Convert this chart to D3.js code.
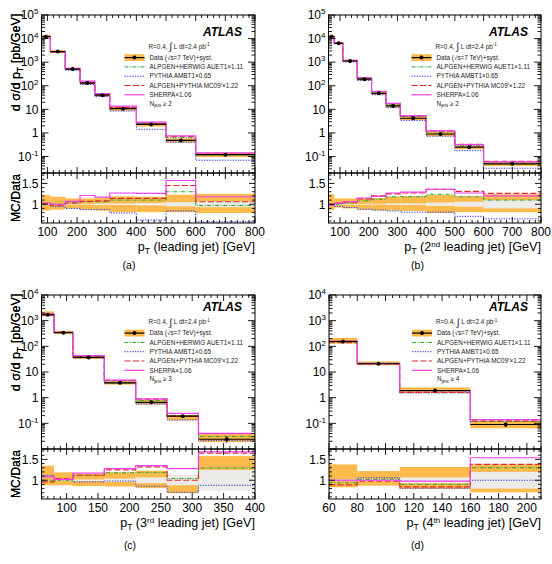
<!DOCTYPE html>
<html><head><meta charset="utf-8">
<script src="https://cdn.jsdelivr.net/npm/d3@7"></script>
<style>
body{margin:0;background:#fff}
svg{display:block}
text{font-family:"Liberation Sans",Arial,Helvetica,sans-serif}
</style>
</head><body>
<svg id="c" width="552" height="564"></svg>
<script>
// ---------------- data ----------------
// (a) leading jet, Njets>=2
const binsA   = [80,110,160,210,260,310,400,500,600,800];
const dataA   = [12000,2800,510,130,40,10.7,2.3,0.48,0.12];
const statA   = [0.01,0.01,0.01,0.01,0.02,0.02,0.03,0.05,0.07];
const sysHiA  = [1.22,1.18,1.14,1.14,1.15,1.19,1.18,1.23,1.25];
const sysLoA  = [0.85,0.87,0.90,0.87,0.85,0.81,0.81,0.81,0.79];
const herwigA = [1.00,1.00,1.03,1.06,1.06,1.10,1.10,1.30,0.97];
const pythiaA = [1.00,0.95,0.90,0.87,0.87,0.79,0.62,0.84,0.58];
const alpPyA  = [1.02,0.98,1.03,1.07,1.08,1.14,1.14,1.45,1.06];
const sherpaA = [1.03,1.00,1.07,1.21,1.17,1.27,1.26,1.57,1.18];
const xTicksA = [100,200,300,400,500,600,700,800];
const yDecA   = [-1,0,1,2,3,4,5];

// (b) 2nd leading jet, Njets>=2
const binsB   = [60,80,110,160,210,260,310,400,500,600,800];
const dataB   = [12000,6300,1120,190,48,14,4.2,0.9,0.25,0.049];
const statB   = [0.01,0.01,0.01,0.01,0.01,0.02,0.02,0.04,0.06,0.10];
const sysHiB  = [1.24,1.14,1.14,1.14,1.15,1.18,1.19,1.22,1.19,1.24];
const sysLoB  = [0.86,0.92,0.90,0.87,0.85,0.85,0.84,0.79,0.81,0.81];
const herwigB = [0.98,1.00,1.03,1.08,1.12,1.18,1.18,1.24,1.18,1.10];
const pythiaB = [1.00,0.95,0.92,0.88,0.86,0.84,0.81,0.81,0.71,0.65];
const alpPyB  = [1.00,1.03,1.05,1.13,1.20,1.25,1.27,1.36,1.31,1.26];
const sherpaB = [0.97,1.02,1.06,1.15,1.19,1.27,1.29,1.36,1.27,1.20];
const xTicksB = [100,200,300,400,500,600,700,800];
const yDecB   = [-1,0,1,2,3,4,5];

// (c) 3rd leading jet, Njets>=3
const binsC   = [60,80,110,160,210,260,310,400];
const dataC   = [1700,340,37,3.8,0.66,0.19,0.024];
const statC   = [0.01,0.01,0.02,0.04,0.07,0.12,0.25];
const sysHiC  = [1.35,1.19,1.15,1.19,1.23,1.12,1.58];
const sysLoC  = [0.88,0.88,0.86,0.85,0.81,0.69,0.77];
const herwigC = [1.00,1.00,1.12,1.18,1.19,1.04,1.29];
const pythiaC = [1.12,1.02,0.96,0.98,0.86,0.71,0.88];
const alpPyC  = [0.96,1.04,1.12,1.25,1.32,1.00,1.65];
const sherpaC = [1.08,1.02,1.17,1.28,1.35,1.28,1.68];
const xTicksC = [100,150,200,250,300,350,400];
const yDecC   = [-1,0,1,2,3,4];

// (d) 4th leading jet, Njets>=4
const binsD   = [60,80,110,160,210];
const dataD   = [155,21,1.9,0.09];
const statD   = [0.02,0.03,0.07,0.20];
const sysHiD  = [1.38,1.22,1.32,1.38];
const sysLoD  = [0.83,0.87,0.79,0.71];
const herwigD = [0.94,1.02,0.90,1.30];
const pythiaD = [1.00,1.06,0.81,1.00];
const alpPyD  = [0.89,0.98,0.84,1.38];
const sherpaD = [1.00,1.00,0.98,1.54];
const xTicksD = [60,80,100,120,140,160,180,200];
const yDecD   = [-1,0,1,2,3,4];

const legendLabels = ["ALPGEN+HERWIG AUET1\u00d71.11","PYTHIA AMBT1\u00d70.65","ALPGEN+PYTHIA MC09\u2032\u00d71.22","SHERPA\u00d71.06"];

// ---------------- styling ----------------
const ORANGE = "#FDBA4C", GREY = "#EDEBE7";
const STY = {
  herwig: {color:"#22A532", dash:"4,1.5,1,1.5", width:1},
  pythia: {color:"#2E3CF0", dash:"1.3,1.3", width:1},
  alpPy:  {color:"#E8262A", dash:"6,2.5", width:1.2},
  sherpa: {color:"#F040F0", dash:null, width:1.2}
};
const ORDER = ["pythia","herwig","alpPy","sherpa"];
const LEG_ORDER = ["herwig","pythia","alpPy","sherpa"];
const TITLE_FS = 12.6;

const svg = d3.select("#c");
const defs = svg.append("defs");

function tickVals(d0, d1, step) {
  const out = [];
  for (let v = Math.ceil(d0/step - 1e-9)*step; v <= d1 + 1e-9; v += step) out.push(+v.toFixed(6));
  return out;
}
function isMult(v, m) { return Math.abs(v/m - Math.round(v/m)) < 1e-6; }

function drawPanel(p) {
  const g = svg.append("g");
  const x  = d3.scaleLinear().domain(p.xDomain).range([p.left, p.right]);
  const y  = d3.scaleLog().domain(p.yDomain).range([p.mainBottom, p.top]);
  const yr = d3.scaleLinear().domain([0.55, 1.75]).range([p.ratioBottom, p.mainBottom]);
  const n = p.data.length, idx = d3.range(n);

  const cm = "cm" + p.id, cr = "cr" + p.id;
  defs.append("clipPath").attr("id", cm).append("rect")
    .attr("x", p.left).attr("y", p.top).attr("width", p.right - p.left).attr("height", p.mainBottom - p.top);
  defs.append("clipPath").attr("id", cr).append("rect")
    .attr("x", p.left).attr("y", p.mainBottom).attr("width", p.right - p.left).attr("height", p.ratioBottom - p.mainBottom);

  const stepLine = d3.line().curve(d3.curveStepAfter);

  // ---- main panel ----
  const gm = g.append("g").attr("clip-path", `url(#${cm})`);
  gm.selectAll("rect.band").data(idx).join("rect").attr("class","band")
    .attr("x", i => x(p.bins[i])).attr("width", i => x(p.bins[i+1]) - x(p.bins[i]))
    .attr("y", i => y(p.data[i]*p.sysHi[i]))
    .attr("height", i => y(p.data[i]*p.sysLo[i]) - y(p.data[i]*p.sysHi[i]))
    .attr("fill", ORANGE);
  ORDER.forEach(k => {
    const r = p.mc[k], s = STY[k];
    const pts = idx.map(i => [x(p.bins[i]), y(p.data[i]*r[i])]);
    pts.push([x(p.bins[n]), y(p.data[n-1]*r[n-1])]);
    gm.append("path").attr("d", stepLine(pts)).attr("fill","none")
      .attr("stroke", s.color).attr("stroke-width", s.width).attr("stroke-dasharray", s.dash);
  });
  gm.selectAll("line.h").data(idx).join("line").attr("class","h")
    .attr("x1", i => x(p.bins[i])).attr("x2", i => x(p.bins[i+1]))
    .attr("y1", i => y(p.data[i])).attr("y2", i => y(p.data[i]))
    .attr("stroke","#000").attr("stroke-width",1.2);
  gm.selectAll("line.v").data(idx).join("line").attr("class","v")
    .attr("x1", i => x((p.bins[i]+p.bins[i+1])/2)).attr("x2", i => x((p.bins[i]+p.bins[i+1])/2))
    .attr("y1", i => y(p.data[i]*(1+p.stat[i]))).attr("y2", i => y(p.data[i]*(1-p.stat[i])))
    .attr("stroke","#000").attr("stroke-width",1.2);
  gm.selectAll("circle").data(idx).join("circle")
    .attr("cx", i => x((p.bins[i]+p.bins[i+1])/2)).attr("cy", i => y(p.data[i]))
    .attr("r", 2).attr("fill","#000");

  // ---- ratio panel ----
  const gr = g.append("g").attr("clip-path", `url(#${cr})`);
  gr.selectAll("rect.sys").data(idx).join("rect").attr("class","sys")
    .attr("x", i => x(p.bins[i])).attr("width", i => x(p.bins[i+1]) - x(p.bins[i]))
    .attr("y", i => yr(p.sysHi[i])).attr("height", i => yr(p.sysLo[i]) - yr(p.sysHi[i]))
    .attr("fill", ORANGE);
  gr.selectAll("rect.stat").data(idx).join("rect").attr("class","stat")
    .attr("x", i => x(p.bins[i])).attr("width", i => x(p.bins[i+1]) - x(p.bins[i]))
    .attr("y", i => yr(1 + p.stat[i])).attr("height", i => yr(1 - p.stat[i]) - yr(1 + p.stat[i]))
    .attr("fill", GREY);
  ORDER.forEach(k => {
    const r = p.mc[k], s = STY[k];
    const pts = idx.map(i => [x(p.bins[i]), yr(r[i])]);
    pts.push([x(p.bins[n]), yr(r[n-1])]);
    gr.append("path").attr("d", stepLine(pts)).attr("fill","none")
      .attr("stroke", s.color).attr("stroke-width", s.width).attr("stroke-dasharray", s.dash);
  });

  // ---- ticks ----
  const tk = g.append("g").attr("stroke","#000").attr("stroke-width",0.9);
  const xv = tickVals(p.xDomain[0], p.xDomain[1], p.xMinor);
  [[p.mainBottom,-1],[p.top,1],[p.mainBottom,1],[p.ratioBottom,-1]].forEach(([yy,dir]) => {
    xv.forEach(v => {
      const L = isMult(v, p.xMajor) ? 6 : 3;
      tk.append("line").attr("x1", x(v)).attr("x2", x(v)).attr("y1", yy).attr("y2", yy + dir*L);
    });
  });
  const e0 = Math.floor(Math.log10(p.yDomain[0])), e1 = Math.ceil(Math.log10(p.yDomain[1]));
  for (let e = e0; e <= e1; e++) for (let k = 1; k <= 9; k++) {
    const v = k*Math.pow(10, e);
    if (v < p.yDomain[0]*0.999 || v > p.yDomain[1]*1.001) continue;
    const L = k === 1 ? 7 : 3.5;
    tk.append("line").attr("x1", p.left).attr("x2", p.left + L).attr("y1", y(v)).attr("y2", y(v));
    tk.append("line").attr("x1", p.right).attr("x2", p.right - L).attr("y1", y(v)).attr("y2", y(v));
  }
  tickVals(0.6, 1.7, 0.1).forEach(v => {
    const L = isMult(v, 0.5) ? 6 : 3;
    tk.append("line").attr("x1", p.left).attr("x2", p.left + L).attr("y1", yr(v)).attr("y2", yr(v));
    tk.append("line").attr("x1", p.right).attr("x2", p.right - L).attr("y1", yr(v)).attr("y2", yr(v));
  });

  // frames
  g.append("rect").attr("x", p.left).attr("y", p.top).attr("width", p.right - p.left)
    .attr("height", p.mainBottom - p.top).attr("fill","none").attr("stroke","#000").attr("stroke-width",1);
  g.append("rect").attr("x", p.left).attr("y", p.mainBottom).attr("width", p.right - p.left)
    .attr("height", p.ratioBottom - p.mainBottom).attr("fill","none").attr("stroke","#000").attr("stroke-width",1);

  // ---- tick labels ----
  p.xTicks.forEach(v => {
    g.append("text").attr("x", x(v)).attr("y", p.ratioBottom + 12.5).attr("text-anchor","middle")
      .attr("font-size", 12).text(v);
  });
  p.yDec.forEach(e => {
    const t = g.append("text").attr("x", p.left - 3).attr("y", y(Math.pow(10, e)) + 4.3)
      .attr("text-anchor","end").attr("font-size", 12);
    if (e === 0) t.text("1");
    else if (e === 1) t.text("10");
    else { t.append("tspan").text("10"); t.append("tspan").attr("dy", -5).attr("font-size", 8).text(e); }
  });
  [1, 1.5].forEach(v => {
    g.append("text").attr("x", p.left - 3).attr("y", yr(v) + 4.3).attr("text-anchor","end")
      .attr("font-size", 12).text(v === 1 ? "1" : "1.5");
  });

  // ---- axis titles ----
  const yt = g.append("text").attr("transform", `translate(20,${p.top - 1.5}) rotate(-90)`)
    .attr("text-anchor","end").attr("font-size", TITLE_FS);
  yt.append("tspan").text("d \u03c3/d p");
  yt.append("tspan").attr("dy", 3).attr("font-size", 8.5).text("T");
  yt.append("tspan").attr("dy", -3).text(" [pb/GeV]");
  g.append("text").attr("transform", `translate(20,${(p.mainBottom + p.ratioBottom)/2}) rotate(-90)`)
    .attr("text-anchor","middle").attr("font-size", 12.2).text("MC/Data");
  const xt = g.append("text").attr("x", p.right).attr("y", p.ratioBottom + 28)
    .attr("text-anchor","end").attr("font-size", TITLE_FS);
  xt.append("tspan").text("p");
  xt.append("tspan").attr("dy", 3).attr("font-size", 8.5).text("T");
  if (p.ord) {
    xt.append("tspan").attr("dy", -3).text(" (" + p.ordNum);
    xt.append("tspan").attr("dy", -4.3).attr("font-size", 8).text(p.ord);
    xt.append("tspan").attr("dy", 4.3).text(" leading jet) [GeV]");
  } else {
    xt.append("tspan").attr("dy", -3).text(" (leading jet) [GeV]");
  }

  // caption
  g.append("text").attr("x", p.capX).attr("y", p.capY).attr("text-anchor","middle")
    .attr("font-family", "'DejaVu Serif','Liberation Serif',serif").attr("font-size", 10.5).text(p.caption);

  // ---- legend ----
  const sh = p.legShift;
  g.append("text").attr("x", p.right - 13).attr("y", p.top + 20.7 + sh).attr("text-anchor","end")
    .attr("font-size", 12).attr("font-weight","bold").attr("font-style","italic").text("ATLAS");
  const lx0 = p.left + 83, lx1 = p.left + 103, tx = p.left + 108;
  const FS = 6.4, FC = "#222";
  const rowY = r => p.top + sh + [31.7, 42.6, 51.9, 61.2, 70.5, 79.8, 88.4][r];
  const r0 = g.append("text").attr("x", tx - 1).attr("y", rowY(0) + 2.2).attr("font-size", FS).attr("fill", FC);
  r0.append("tspan").text("R=0.4, ");
  r0.append("tspan").attr("font-size", 10).attr("dy", 1.5).text("\u222b");
  r0.append("tspan").attr("dy", -1.5).text(" L dt=2.4 pb");
  r0.append("tspan").attr("dy", -2.5).attr("font-size", 4.5).text("-1");
  const dy = rowY(1);
  g.append("rect").attr("x", lx0).attr("y", dy - 3.4).attr("width", lx1 - lx0).attr("height", 6.8).attr("fill", ORANGE);
  g.append("line").attr("x1", lx0).attr("x2", lx1).attr("y1", dy).attr("y2", dy).attr("stroke","#000").attr("stroke-width",1.2);
  g.append("circle").attr("cx", (lx0 + lx1)/2).attr("cy", dy).attr("r", 2).attr("fill","#000");
  g.append("text").attr("x", tx).attr("y", dy + 2.2).attr("font-size", FS).attr("fill", FC)
    .text("Data (\u221as=7 TeV)+syst.");
  LEG_ORDER.forEach((k, j) => {
    const yy = rowY(2 + j), s = STY[k];
    g.append("line").attr("x1", lx0).attr("x2", lx1).attr("y1", yy).attr("y2", yy)
      .attr("stroke", s.color).attr("stroke-width", s.width).attr("stroke-dasharray", s.dash);
    g.append("text").attr("x", tx).attr("y", yy + 2.2).attr("font-size", FS).attr("fill", FC).text(legendLabels[j]);
  });
  const nj = g.append("text").attr("x", tx).attr("y", rowY(6) + 2.2).attr("font-size", FS).attr("fill", FC);
  nj.append("tspan").text("N");
  nj.append("tspan").attr("dy", 1.8).attr("font-size", 4.5).text("jets");
  nj.append("tspan").attr("dy", -1.8).text(" \u2265 " + p.njets);
}

drawPanel({id:"a", left:41.5, right:255, top:15, mainBottom:173, ratioBottom:223,
  xDomain:[80,800], yDomain:[0.02,1e5], xMajor:100, xMinor:20, xTicks:xTicksA, yDec:yDecA,
  bins:binsA, data:dataA, stat:statA, sysHi:sysHiA, sysLo:sysLoA,
  mc:{herwig:herwigA, pythia:pythiaA, alpPy:alpPyA, sherpa:sherpaA},
  ord:null, caption:"(a)", capX:129, capY:269, legShift:0, njets:"2"});
drawPanel({id:"b", left:328.5, right:541, top:15, mainBottom:173, ratioBottom:223,
  xDomain:[60,800], yDomain:[0.02,1e5], xMajor:100, xMinor:20, xTicks:xTicksB, yDec:yDecB,
  bins:binsB, data:dataB, stat:statB, sysHi:sysHiB, sysLo:sysLoB,
  mc:{herwig:herwigB, pythia:pythiaB, alpPy:alpPyB, sherpa:sherpaB},
  ord:"nd", ordNum:"2", caption:"(b)", capX:417.5, capY:269, legShift:0, njets:"2"});
drawPanel({id:"c", left:41.5, right:255, top:295, mainBottom:449, ratioBottom:499,
  xDomain:[60,400], yDomain:[0.01,1e4], xMajor:50, xMinor:10, xTicks:xTicksC, yDec:yDecC,
  bins:binsC, data:dataC, stat:statC, sysHi:sysHiC, sysLo:sysLoC,
  mc:{herwig:herwigC, pythia:pythiaC, alpPy:alpPyC, sherpa:sherpaC},
  ord:"rd", ordNum:"3", caption:"(c)", capX:130, capY:549, legShift:-4.5, njets:"3"});
drawPanel({id:"d", left:329, right:541, top:295, mainBottom:449, ratioBottom:499,
  xDomain:[60,210], yDomain:[0.01,1e4], xMajor:20, xMinor:5, xTicks:xTicksD, yDec:yDecD,
  bins:binsD, data:dataD, stat:statD, sysHi:sysHiD, sysLo:sysLoD,
  mc:{herwig:herwigD, pythia:pythiaD, alpPy:alpPyD, sherpa:sherpaD},
  ord:"th", ordNum:"4", caption:"(d)", capX:417.5, capY:549, legShift:-4.5, njets:"4"});
</script>
</body></html>
